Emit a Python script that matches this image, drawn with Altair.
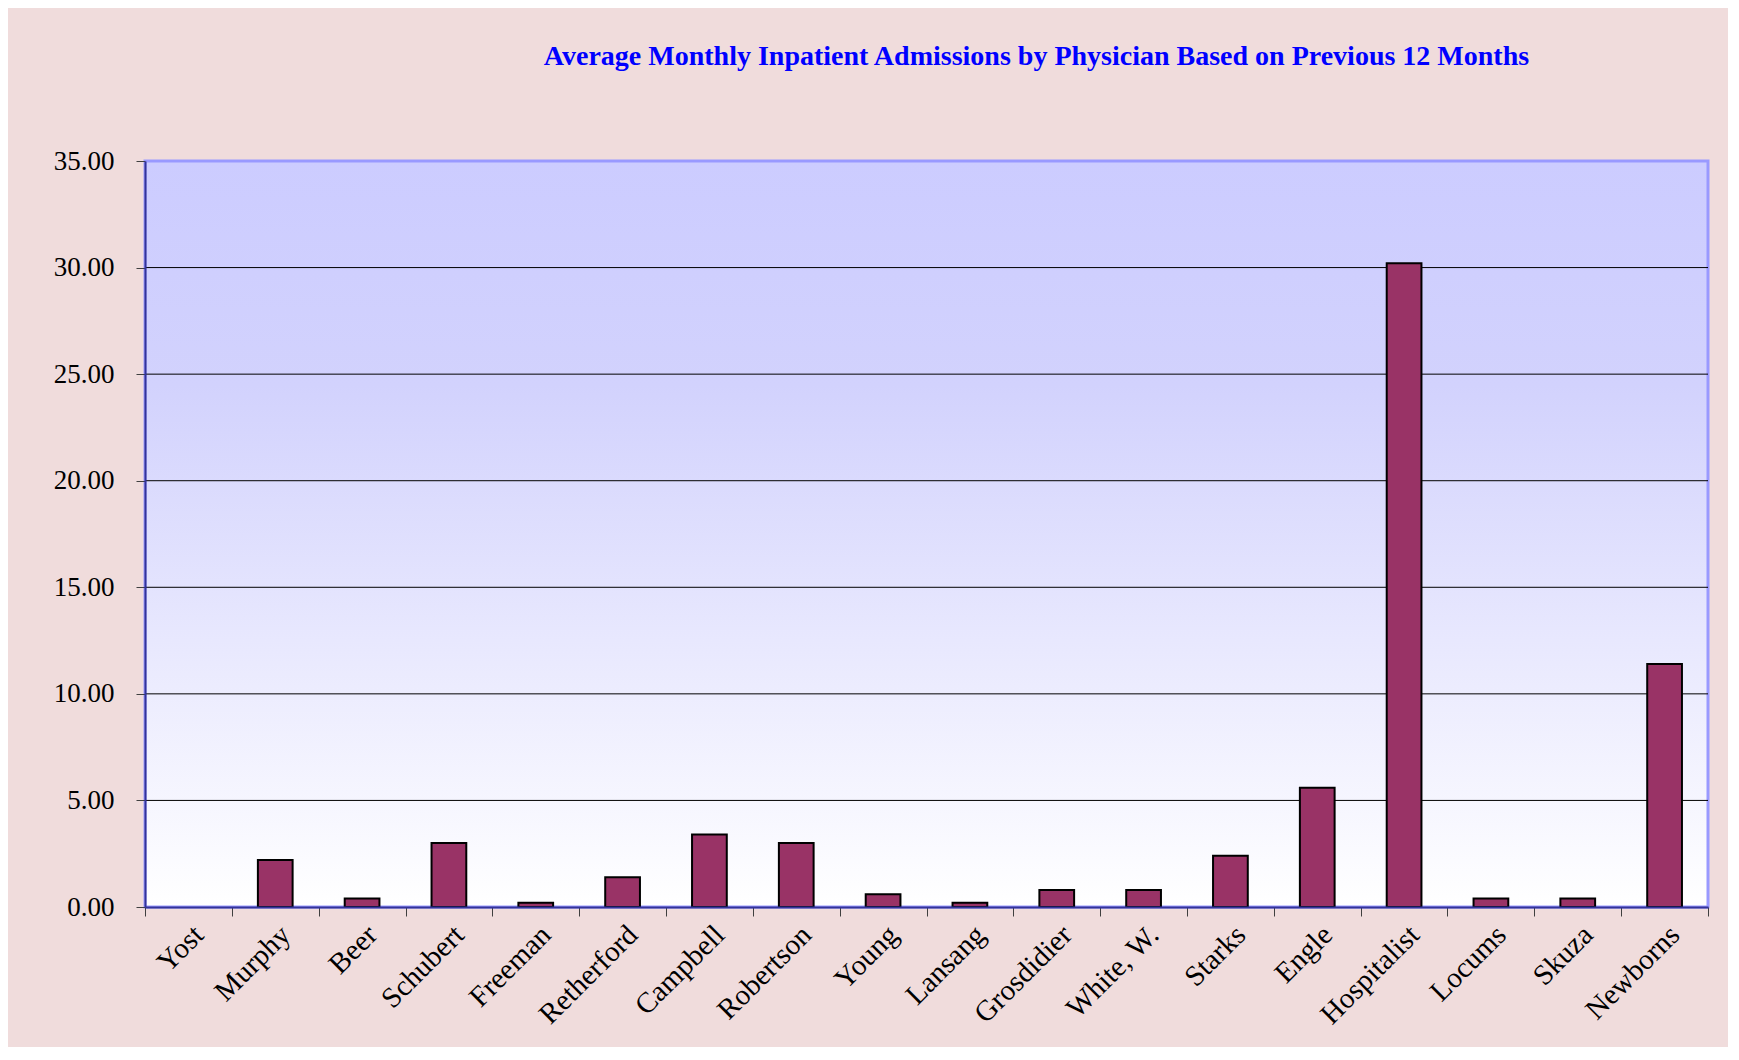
import altair as alt
import pandas as pd

physicians = ["Yost", "Murphy", "Beer", "Schubert", "Freeman", "Retherford",
              "Campbell", "Robertson", "Young", "Lansang", "Grosdidier",
              "White, W.", "Starks", "Engle", "Hospitalist", "Locums",
              "Skuza", "Newborns"]
admissions = [0.0, 2.2, 0.4, 3.0, 0.2, 1.4, 3.4, 3.0, 0.6, 0.2, 0.8, 0.8,
              2.4, 5.6, 30.2, 0.4, 0.4, 11.4]
y_ticks = [0, 5, 10, 15, 20, 25, 30, 35]
grid_values = [5, 10, 15, 20, 25, 30]

df = pd.DataFrame({"Physician": physicians, "Admissions": admissions})
grid_df = pd.DataFrame({"g": grid_values})

W, H = 1563, 746
FONT = "Liberation Serif"

y_scale = alt.Scale(domain=[0, 35], nice=False)
y_axis = alt.Axis(values=y_ticks, format=".2f", labelFont=FONT,
                  labelFontSize=27, labelColor="black", tickColor="#404040",
                  tickSize=9, domainColor="#333399", domainWidth=2,
                  grid=False, labelPadding=22, zindex=1)

background = alt.Chart(pd.DataFrame({"a": [0]})).mark_rect(
    color=alt.Gradient(
        gradient="linear",
        stops=[alt.GradientStop(color="#CCCCFF", offset=0),
               alt.GradientStop(color="#D2D2FD", offset=0.3),
               alt.GradientStop(color="#FFFFFF", offset=1)],
        x1=0, x2=0, y1=0, y2=1),
    stroke="#9999FF", strokeWidth=3
).encode(x=alt.value(0), x2=alt.value(W), y=alt.value(0), y2=alt.value(H))

grid = alt.Chart(grid_df).mark_rule(color="black", strokeWidth=1).encode(
    x=alt.value(0), x2=alt.value(W),
    y=alt.Y("g:Q", scale=y_scale, axis=y_axis, title=None)
)

bars = alt.Chart(df).mark_bar(
    width=alt.RelativeBandSize(0.4), color="#993366", stroke="black", strokeWidth=2
).encode(
    x=alt.X("Physician:N", sort=physicians, title=None,
            scale=alt.Scale(paddingInner=0, paddingOuter=0),
            axis=alt.Axis(labelAngle=-45, labelFont=FONT, labelFontSize=29,
                          labelColor="black", tickBand="extent", tickColor="#404040",
                          tickSize=9, domainColor="#333399", domainWidth=2,
                          labelPadding=4, grid=False, zindex=1)),
    y=alt.Y("Admissions:Q", title=None, scale=y_scale, axis=y_axis),
    strokeOpacity=alt.condition(alt.datum.Admissions > 0, alt.value(1), alt.value(0))
)

chart = alt.layer(background, grid, bars).resolve_scale(y="shared").properties(
    width=W, height=H,
    autosize=alt.AutoSizeParams(type="none"),
    padding={"left": 137, "top": 153, "right": 20, "bottom": 140},
    title=alt.Title("Average Monthly Inpatient Admissions by Physician Based on Previous 12 Months",
                    font=FONT, fontSize=28, fontWeight="bold", color="#0000FF",
                    anchor="middle", dx=110, offset=76)
).configure(background="#F0DCDC").configure_view(stroke=None)

chart.save("out.html", embed_options={"renderer": "svg", "actions": False})
